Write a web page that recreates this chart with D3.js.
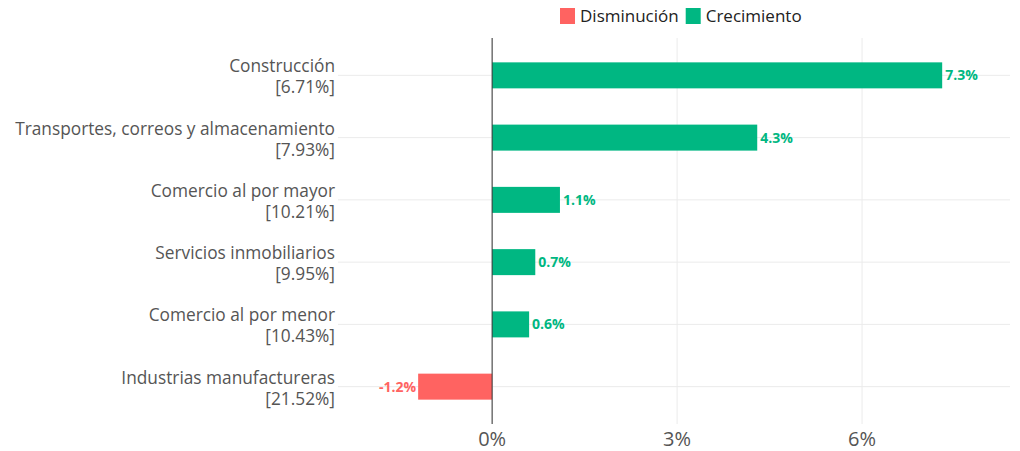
<!DOCTYPE html>
<html>
<head>
<meta charset="utf-8">
<script src="https://cdn.jsdelivr.net/npm/d3@7"></script>
<style>
  body { margin: 0; background: #fff; }
  text { font-family: "Open Sans", "Noto Sans", sans-serif; }
</style>
</head>
<body>
<svg id="chart" width="1020" height="451"></svg>
<script>
// Sectors, their weight, and yearly change
var sectors = [
  'Construcción',
  'Transportes, correos y almacenamiento',
  'Comercio al por mayor',
  'Servicios inmobiliarios',
  'Comercio al por menor',
  'Industrias manufactureras'
];
var weights = ['6.71%', '7.93%', '10.21%', '9.95%', '10.43%', '21.52%'];
var changes = [7.3, 4.3, 1.1, 0.7, 0.6, -1.2];
var xTicks = [0, 3, 6];
var legendItems = ['Disminución', 'Crecimiento'];

var red = '#ff6361';
var green = '#00b782';

var svg = d3.select('#chart');
var panelLeft = 338, panelRight = 1010, panelTop = 38, panelBottom = 424;

var x = d3.scaleLinear()
          .domain([-2.5, 8.4])
          .range([panelLeft, panelRight]);
var y = d3.scalePoint()
          .domain(sectors)
          .range([panelTop, panelBottom])
          .padding(0.6);
var bandH = 26;

var data = sectors.map(function (s, i) {
  return { sector: s, weight: weights[i], value: changes[i] };
});

// Grid lines
svg.selectAll('.hgrid')
   .data(sectors)
   .enter()
   .append('line')
   .attr('x1', panelLeft)
   .attr('x2', panelRight)
   .attr('y1', function (d) { return y(d); })
   .attr('y2', function (d) { return y(d); })
   .attr('stroke', '#ebebeb')
   .attr('stroke-width', 1);
svg.selectAll('.vgrid')
   .data(xTicks)
   .enter()
   .append('line')
   .attr('x1', function (d) { return x(d); })
   .attr('x2', function (d) { return x(d); })
   .attr('y1', panelTop)
   .attr('y2', panelBottom)
   .attr('stroke', '#ebebeb')
   .attr('stroke-width', 1);

// Bars
svg.selectAll('.bar')
   .data(data)
   .enter()
   .append('rect')
   .attr('x', function (d) { return x(Math.min(0, d.value)); })
   .attr('y', function (d) { return y(d.sector) - bandH / 2; })
   .attr('width', function (d) { return Math.abs(x(d.value) - x(0)); })
   .attr('height', bandH)
   .attr('fill', function (d) { return d.value < 0 ? red : green; });

// Zero line
svg.append('line')
   .attr('x1', x(0))
   .attr('x2', x(0))
   .attr('y1', panelTop)
   .attr('y2', panelBottom)
   .attr('stroke', '#333')
   .attr('stroke-width', 1);

// Value labels
svg.selectAll('.val')
   .data(data)
   .enter()
   .append('text')
   .attr('x', function (d) { return d.value < 0 ? x(d.value) - 2 : x(d.value) + 3; })
   .attr('y', function (d) { return y(d.sector); })
   .attr('dy', '0.35em')
   .attr('text-anchor', function (d) { return d.value < 0 ? 'end' : 'start'; })
   .attr('font-size', 14)
   .attr('font-weight', 'bold')
   .attr('fill', function (d) { return d.value < 0 ? red : green; })
   .text(function (d) { return d.value.toFixed(1) + '%'; });

// Category labels, two lines each
var lab = svg.selectAll('.lab')
   .data(data)
   .enter()
   .append('g')
   .attr('font-size', 17.3)
   .attr('fill', '#555')
   .attr('text-anchor', 'end');
lab.append('text')
   .attr('x', 335)
   .attr('y', function (d) { return y(d.sector) - 3; })
   .text(function (d) { return d.sector; });
lab.append('text')
   .attr('x', 335)
   .attr('y', function (d) { return y(d.sector) + 18; })
   .text(function (d) { return '[' + d.weight + ']'; });

// X tick labels
svg.selectAll('.xt')
   .data(xTicks)
   .enter()
   .append('text')
   .attr('x', function (d) { return x(d); })
   .attr('y', 446)
   .attr('text-anchor', 'middle')
   .attr('font-size', 20)
   .attr('fill', '#555')
   .text(function (d) { return d + '%'; });

// Legend
var lg = svg.append('g').attr('transform', 'translate(560,8)');
var lx = 0;
legendItems.forEach(function (name, i) {
  lg.append('rect')
    .attr('x', lx)
    .attr('y', 0)
    .attr('width', 15)
    .attr('height', 16)
    .attr('fill', i === 0 ? red : green);
  var t = lg.append('text')
    .attr('x', lx + 20)
    .attr('y', 8)
    .attr('dy', '0.35em')
    .attr('font-size', 17)
    .attr('fill', '#222')
    .text(name);
  lx += 20 + t.node().getComputedTextLength() + 7;
});
</script>
</body>
</html>
